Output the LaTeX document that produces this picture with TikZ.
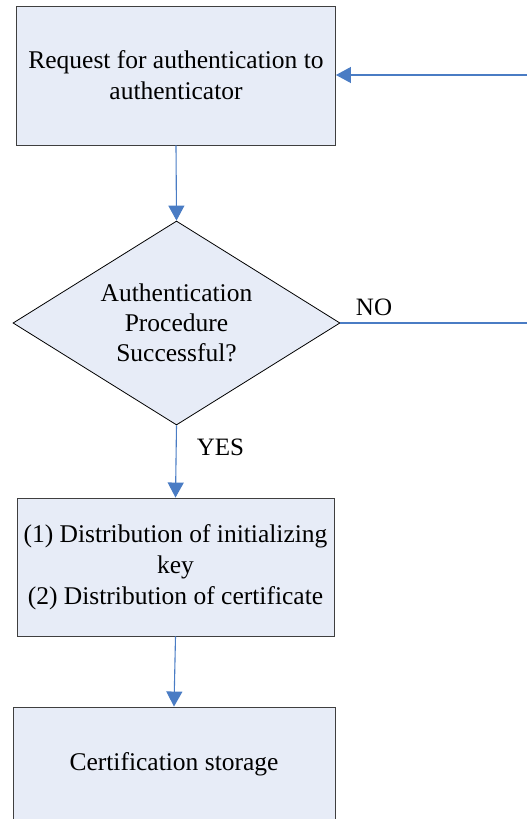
\documentclass[tikz,border=0pt]{standalone}
\usepackage{fontspec}
\setmainfont{Liberation Serif}
\usetikzlibrary{shapes.geometric,arrows.meta}
\definecolor{boxfill}{HTML}{E7ECF7}
\definecolor{boxline}{HTML}{3F3F3F}
\definecolor{flow}{HTML}{4A7CC4}
\tikzset{
  procbox/.style={draw=boxline, fill=boxfill, line width=0.9pt, inner sep=0pt,
    align=center, font=\fontsize{25.5}{31}\selectfont},
  decision/.style={diamond, draw=black, fill=boxfill, line width=0.8pt, inner sep=0pt,
    minimum width=327pt, minimum height=204pt},
  decisiontext/.style={align=center, inner sep=0pt, font=\fontsize{25.5}{30}\selectfont},
  flowline/.style={draw=flow, line width=1.1pt},
  flowarrow/.style={flowline, -{Triangle[width=16pt,length=15pt]}},
  tag/.style={font=\fontsize{25}{26}\selectfont, inner sep=0pt}
}
\begin{document}
\begin{tikzpicture}[x=1pt,y=-1pt]
  \useasboundingbox (0,0) rectangle (527,819);
  \clip (0,0) rectangle (527,819);

  % process steps and the decision
  \node[procbox, minimum width=319pt, minimum height=139pt] (req) at (176,75.5)
    {Request for authentication to\\authenticator};
  \node[decision] (dec) at (176.5,323) {};
  \node[decisiontext] (dectext) at (dec.center) {Authentication\\Procedure\\Successful?};
  \node[procbox, minimum width=317pt, minimum height=138pt] (dist) at (175.5,567)
    {(1) Distribution of initializing\\key\\(2) Distribution of certificate};
  \node[procbox, minimum width=322pt, minimum height=114pt] (store) at (174,764)
    {Certification storage};

  % loose ends of the retry loop at the right edge
  \coordinate (noend) at (527,323);
  \coordinate (backin) at (527,75);

  % connectors
  \draw[flowarrow] (req.south) -- (dec.north);
  \draw[flowarrow] (dec.south) -- (dist.north);
  \draw[flowarrow] (dist.south) -- (store.north);
  \draw[flowline] (dec.east) -- (noend);
  \draw[flowarrow] (backin) -- (req.east |- backin);

  % branch labels
  \node[tag] (nolbl) at (374,307) {NO};
  \node[tag] (yeslbl) at (220.5,447) {YES};
\end{tikzpicture}
\end{document}
